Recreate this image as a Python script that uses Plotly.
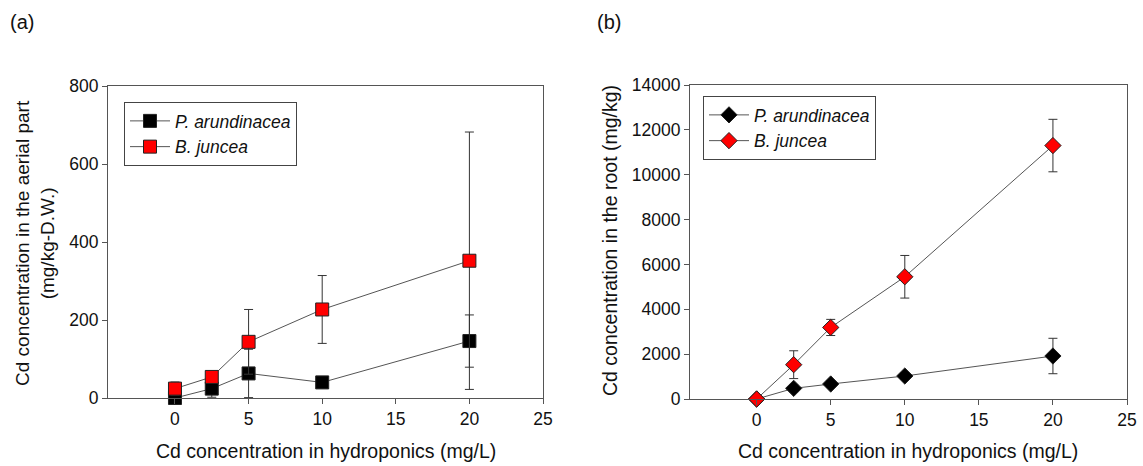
import plotly.graph_objects as go

W, H = 1143, 466

# ---- data ----
conc = [0, 2.5, 5, 10, 20]
series_names = ["P. arundinacea", "B. juncea"]

aerial_pa = [0, 24, 63, 40, 146]
aerial_pa_err = [0, 22, 62, 10, 67]
aerial_bj = [24, 54, 144, 227, 352]
aerial_bj_err = [17, 10, 83, 87, 330]

root_pa = [0, 475, 669, 1025, 1917]
root_pa_err = [0, 150, 150, 150, 790]
root_bj = [0, 1530, 3190, 5450, 11300]
root_bj_err = [0, 620, 360, 950, 1170]

x_ticks = [0, 5, 10, 15, 20, 25]

FONT = "Arial, Liberation Sans, sans-serif"
TXT = "#111111"
LINE = "#555555"
ERR = "#333333"

def px_x(p):
    return p / W

def px_y(p):
    return 1 - p / H

fig = go.Figure()

def add_series(x, y, err, name, color, symbol, size, xa, ya, legend):
    fig.add_trace(go.Scatter(
        x=x, y=y, name="<i>%s</i>" % name, mode="lines+markers",
        line=dict(color=LINE, width=1),
        marker=dict(symbol=symbol, size=size, color=color,
                    line=dict(color="#222222", width=1)),
        error_y=dict(type="data", array=err, visible=True,
                     color=ERR, thickness=1, width=4.5),
        xaxis=xa, yaxis=ya, legend=legend, cliponaxis=False,
    ))

add_series(conc, aerial_pa, aerial_pa_err, series_names[0], "#000000", "square", 13, "x", "y", "legend")
add_series(conc, aerial_bj, aerial_bj_err, series_names[1], "#ff0000", "square", 13, "x", "y", "legend")
add_series(conc, root_pa, root_pa_err, series_names[0], "#000000", "diamond", 12.5, "x2", "y2", "legend2")
add_series(conc, root_bj, root_bj_err, series_names[1], "#ff0000", "diamond", 12.5, "x2", "y2", "legend2")

def axis(**kw):
    d = dict(showgrid=False, zeroline=False, showline=True, linecolor=LINE,
             linewidth=1, mirror=True, ticks="outside", ticklen=5,
             tickcolor=LINE, automargin=False,
             tickfont=dict(family=FONT, size=17.5, color=TXT))
    d.update(kw)
    return d

fig.update_layout(
    width=W, height=H,
    margin=dict(l=0, r=0, t=0, b=0),
    paper_bgcolor="white", plot_bgcolor="white",
    font=dict(family=FONT, color=TXT),
    xaxis=axis(domain=[px_x(108), px_x(543)], range=[-4.55, 25],
               tickvals=x_ticks, anchor="y"),
    yaxis=axis(domain=[px_y(398), px_y(86)], range=[0, 800], dtick=200,
               anchor="x"),
    xaxis2=axis(domain=[px_x(690), px_x(1127)], range=[-4.5, 25],
                tickvals=x_ticks, anchor="y2"),
    yaxis2=axis(domain=[px_y(399), px_y(85)], range=[0, 14000], dtick=2000,
                tickformat="d", anchor="x2"),
    legend=dict(x=px_x(124), y=px_y(102), xanchor="left", yanchor="top",
                bordercolor="#444444", borderwidth=1, bgcolor="white",
                itemwidth=40, tracegroupgap=0,
                font=dict(family=FONT, size=17.5, color=TXT)),
    legend2=dict(x=px_x(703), y=px_y(96), xanchor="left", yanchor="top",
                 bordercolor="#444444", borderwidth=1, bgcolor="white",
                 itemwidth=40, tracegroupgap=0,
                 font=dict(family=FONT, size=17.5, color=TXT)),
)

ann = [
    ("(a)", 8, 22, "left", 0, 20),
    ("(b)", 595, 22, "left", 0, 20),
    ("Cd concentration in hydroponics (mg/L)", 326, 451, "center", 0, 19.5),
    ("Cd concentration in hydroponics (mg/L)", 908, 451, "center", 0, 19.5),
    ("Cd concentration in the aerial part<br>(mg/kg-D.W.)", 35, 243, "center", -90, 19),
    ("Cd concentration in the root (mg/kg)", 610, 241, "center", -90, 19.5),
]
for text, ax, ay, xanc, ang, fs in ann:
    fig.add_annotation(text=text, x=px_x(ax), y=px_y(ay), xref="paper", yref="paper",
                       xanchor=xanc, yanchor="middle", textangle=ang, showarrow=False,
                       font=dict(family=FONT, size=fs, color=TXT))

fig.write_html("out.html", config={"displayModeBar": False},
               post_script="document.body.style.margin='0';document.body.style.overflow='hidden';")
